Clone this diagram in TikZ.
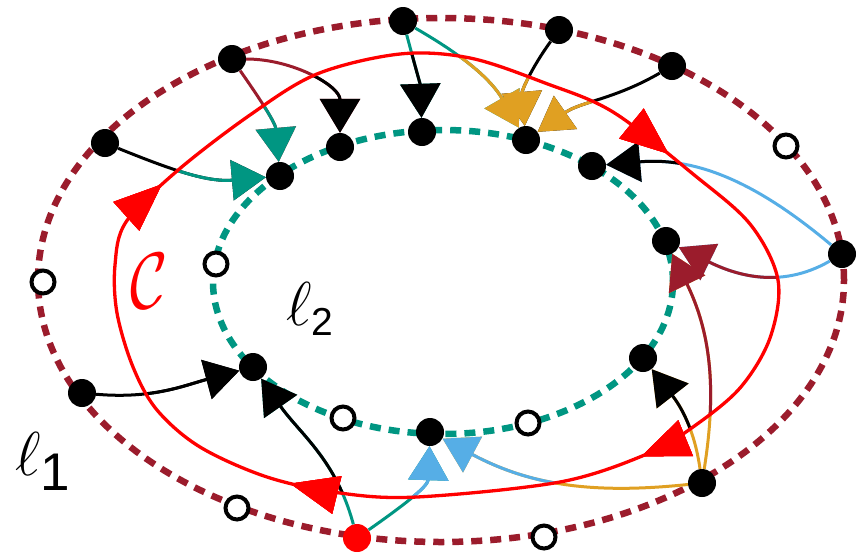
\RequirePackage{fix-cm}
\documentclass[tikz,border=0pt]{standalone}
\usepackage{fontspec}
\usepackage{graphicx}
\setsansfont{Liberation Sans}
\usetikzlibrary{arrows.meta, decorations.markings}
\definecolor{ringone}{HTML}{9B1C2C}
\definecolor{ringtwo}{HTML}{009682}
\definecolor{linkgold}{HTML}{E0A022}
\definecolor{linksky}{HTML}{56AEE6}

\tikzset{
  dot/.style={circle, fill=black, inner sep=0pt, minimum size=28pt},
  hole/.style={circle, draw=black, fill=white, line width=4pt, inner sep=0pt, minimum size=23pt},
  ring/.style={line width=6.5pt, dash pattern=on 11pt off 8pt},
  link/.style={line width=3pt, -{Triangle[length=34pt, width=40pt]}},
  lbl/.style={inner sep=0pt, anchor=base west},
  redtip/.style={decoration={markings,
      mark=at position #1 with {\arrow{Triangle[length=48pt, width=38pt]}}},
    postaction={decorate}},
}

% the closed curve C
\def\curveC{plot[smooth cycle, tension=0.55] coordinates {(115,265) (126,222) (177,171)
  (250,115) (317,74) (400,54) (470,58) (545,83) (613,112) (693,174) (750,224) (778,280)
  (770,338) (740,388) (693,427) (647,454) (560,482) (417,497) (340,493) (267,477)
  (200,447) (157,410) (133,367) (117,313)}}

% source/target/out/in/colour outside C/colour inside C
\def\links{oB/iA/-55/95/ringone/ringtwo, oB/iB/0/90/ringone/black,
  oC/iA/-22/-175/black/ringtwo, oA/iC/-75/92/ringtwo/black,
  oA/iD/-30/120/ringtwo/linkgold, oM/iD/-126/95/black/linkgold,
  oL/iD/-150/35/black/linkgold, oJ/iE/140/5/linksky/black,
  oJ/iF/-150/-26/linksky/ringone, oI/iF/81/-64/linkgold/ringone,
  oI/iL/98/-52/linkgold/black, oI/iJ/-174/-28/linkgold/linksky,
  oG/iH/105/-55/ringtwo/black, oG/iJ/35/-92/ringtwo/linksky,
  oE/iH/-5/-165/black/black}

\begin{document}
\begin{tikzpicture}[x=1pt, y=-1pt]
  \useasboundingbox (0,0) rectangle (859,555);

  % loops l1 and l2
  \draw[ring, ringone] (441,280) ellipse [x radius=403pt, y radius=262pt];
  \draw[ring, ringtwo] (443,282) ellipse [x radius=230pt, y radius=152pt];

  % points on l1
  \node[dot] (oA) at (403,21) {};
  \node[dot] (oB) at (232,59) {};
  \node[dot] (oC) at (105,143) {};
  \node[hole] (oD) at (43,282) {};
  \node[dot] (oE) at (82,393) {};
  \node[hole] (oF) at (237,508) {};
  \node[dot, fill=red] (oG) at (357,538) {};
  \node[hole] (oH) at (544,537) {};
  \node[dot] (oI) at (702,483) {};
  \node[dot] (oJ) at (842,254) {};
  \node[hole] (oK) at (786,146) {};
  \node[dot] (oL) at (672,66) {};
  \node[dot] (oM) at (559,30) {};

  % points on l2
  \node[dot] (iA) at (280,176) {};
  \node[dot] (iB) at (340,147) {};
  \node[dot] (iC) at (422,132) {};
  \node[dot] (iD) at (526,140) {};
  \node[dot] (iE) at (592,166) {};
  \node[dot] (iF) at (666,241) {};
  \node[hole] (iG) at (216,264) {};
  \node[dot] (iH) at (253,367) {};
  \node[hole] (iI) at (343,418) {};
  \node[dot] (iJ) at (430,432) {};
  \node[hole] (iK) at (528,423) {};
  \node[dot] (iL) at (643,358) {};

  % links: outside C
  \foreach \src/\dst/\aout/\ain/\cout/\cin in \links
    \draw[link, color=\cout] (\src) to[out=\aout, in=\ain] (\dst);
  % links: inside C
  \begin{scope}
    \clip \curveC;
    \foreach \src/\dst/\aout/\ain/\cout/\cin in \links
      \draw[link, color=\cin] (\src) to[out=\aout, in=\ain] (\dst);
  \end{scope}

  % curve C
  \draw[red, line width=3.3pt, redtip=0.03, redtip=0.357, redtip=0.592, redtip=0.797] \curveC;

  % labels
  \node[lbl] (lone) at (15,475) {\fontsize{62}{62}\selectfont$\ell$\raisebox{-15pt}{\fontsize{53}{53}\selectfont\sffamily 1}};
  \node[lbl] (ltwo) at (286,325) {\fontsize{62}{62}\selectfont$\ell$\raisebox{-10pt}{\fontsize{39}{39}\selectfont\sffamily 2}};
  \node[red, inner sep=0pt] (cname) at (149,281) {\fontsize{80}{80}\selectfont\scalebox{0.8}[1]{$\mathcal{C}$}};
\end{tikzpicture}
\end{document}
